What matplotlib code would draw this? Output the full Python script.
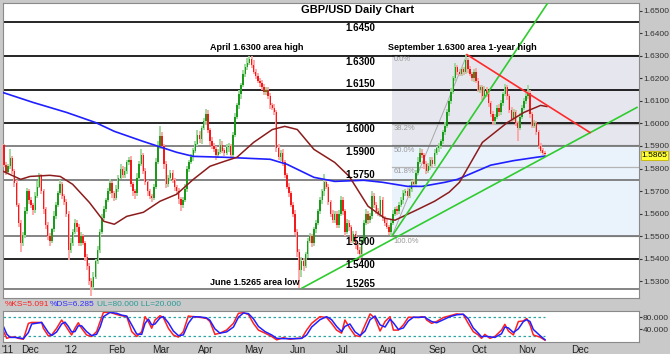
import numpy as np
import matplotlib.pyplot as plt

plt.rcParams['font.family'] = ['Liberation Sans', 'DejaVu Sans']

# ---- daily GBP/USD candles, index 0 = mid-Nov 2011 ----
first_open = 1.5905
closes = [
    1.5815, 1.5785, 1.5810, 1.5845, 1.5790, 1.5735, 1.5640, 1.5560, 1.5470, 1.5505,
    1.5610, 1.5700, 1.5660, 1.5640, 1.5615, 1.5680, 1.5720, 1.5765, 1.5700, 1.5620,
    1.5550, 1.5500, 1.5480, 1.5530, 1.5590, 1.5640, 1.5690, 1.5730, 1.5680, 1.5650,
    1.5600, 1.5440, 1.5470, 1.5520, 1.5560, 1.5540, 1.5470, 1.5500, 1.5470, 1.5410,
    1.5370, 1.5300, 1.5275, 1.5320, 1.5390, 1.5440, 1.5520, 1.5580, 1.5620, 1.5660,
    1.5700, 1.5735, 1.5690, 1.5670, 1.5710, 1.5760, 1.5800, 1.5770, 1.5790, 1.5830,
    1.5840, 1.5730, 1.5700, 1.5690, 1.5760, 1.5820, 1.5860, 1.5790, 1.5740, 1.5700,
    1.5680, 1.5670, 1.5720, 1.5830, 1.5900, 1.5945, 1.5900, 1.5820, 1.5730, 1.5760,
    1.5780, 1.5750, 1.5720, 1.5700, 1.5665, 1.5640, 1.5660, 1.5710, 1.5800, 1.5830,
    1.5850, 1.5880, 1.5910, 1.5950, 1.5930, 1.5980, 1.6010, 1.6040, 1.5970, 1.5920,
    1.5900, 1.5885, 1.5860, 1.5875, 1.5905, 1.5880, 1.5870, 1.5895, 1.5900, 1.5860,
    1.5950, 1.6030, 1.6080, 1.6130, 1.6170, 1.6220, 1.6250, 1.6270, 1.6285, 1.6260,
    1.6230, 1.6210, 1.6190, 1.6180, 1.6160, 1.6140, 1.6150, 1.6120, 1.6080, 1.6070,
    1.6050, 1.5890, 1.5850, 1.5870, 1.5830, 1.5770, 1.5720, 1.5690, 1.5640, 1.5600,
    1.5520, 1.5430, 1.5350, 1.5390, 1.5370, 1.5420, 1.5480, 1.5500, 1.5470, 1.5530,
    1.5560, 1.5610, 1.5660, 1.5700, 1.5740, 1.5720, 1.5650, 1.5600, 1.5570, 1.5600,
    1.5550, 1.5600, 1.5660, 1.5610, 1.5520, 1.5560, 1.5540, 1.5480, 1.5510, 1.5460,
    1.5440, 1.5420, 1.5480, 1.5560, 1.5600, 1.5570, 1.5590, 1.5680, 1.5640, 1.5610,
    1.5600, 1.5660, 1.5580, 1.5560, 1.5540, 1.5520, 1.5560, 1.5600, 1.5620, 1.5610,
    1.5640, 1.5660, 1.5690, 1.5700, 1.5680, 1.5710, 1.5740, 1.5730, 1.5780, 1.5830,
    1.5870, 1.5860, 1.5820, 1.5790, 1.5810, 1.5840, 1.5820, 1.5870, 1.5890, 1.5900,
    1.5920, 1.5960, 1.5990, 1.6050, 1.6100, 1.6140, 1.6200, 1.6250, 1.6230, 1.6220,
    1.6240, 1.6230, 1.6280, 1.6240, 1.6220, 1.6200, 1.6230, 1.6190, 1.6150, 1.6160,
    1.6120, 1.6150, 1.6130, 1.6090, 1.6040, 1.6010, 1.6030, 1.6070, 1.6050, 1.6090,
    1.6130, 1.6160, 1.6120, 1.6060, 1.6020, 1.6050, 1.6000, 1.5980, 1.6030, 1.6070,
    1.6100, 1.6120, 1.6135, 1.6040, 1.5990, 1.6000, 1.5960, 1.5900, 1.5880, 1.5870, 1.5865,
]
# shadow lengths above / below the body, in pips
up_pips = [
    5, 12, 10, 40, 10, 8, 12, 6, 10, 15,
    20, 15, 10, 12, 8, 15, 25, 15, 10, 8,
    10, 12, 15, 8, 20, 10, 12, 18, 10, 8,
    15, 10, 20, 12, 15, 10, 12, 20, 10, 8,
    12, 10, 15, 20, 10, 15, 12, 20, 15, 10,
    15, 20, 10, 12, 15, 10, 20, 12, 15, 10,
    10, 15, 12, 10, 20, 15, 25, 10, 12, 8,
    10, 8, 12, 15, 20, 42, 15, 10, 12, 10,
    12, 15, 10, 8, 12, 10, 15, 20, 12, 10,
    15, 10, 12, 20, 15, 10, 15, 25, 20, 10,
    20, 12, 15, 10, 25, 15, 10, 12, 15, 10,
    10, 15, 12, 20, 10, 15, 12, 20, 15, 12,
    20, 12, 15, 10, 12, 15, 10, 12, 15, 10,
    15, 10, 20, 12, 15, 10, 12, 15, 10, 12,
    15, 10, 12, 20, 15, 10, 12, 15, 10, 12,
    10, 12, 15, 10, 34, 15, 12, 10, 15, 12,
    12, 15, 20, 12, 10, 15, 12, 10, 15, 12,
    10, 12, 15, 10, 20, 12, 15, 20, 10, 12,
    15, 20, 12, 10, 15, 10, 12, 15, 10, 12,
    10, 12, 15, 10, 12, 15, 10, 12, 15, 20,
    20, 15, 10, 12, 15, 10, 12, 15, 10, 12,
    12, 10, 15, 12, 10, 15, 12, 20, 10, 12,
    12, 10, 28, 12, 15, 10, 12, 15, 10, 12,
    12, 15, 10, 12, 10, 15, 12, 10, 15, 12,
    10, 15, 12, 10, 15, 12, 10, 12, 15, 10,
    12, 15, 35, 12, 10, 15, 12, 10, 12, 10, 8,
]
dn_pips = [
    10, 15, 8, 10, 12, 15, 10, 20, 40, 12,
    12, 10, 18, 15, 20, 10, 12, 8, 15, 20,
    20, 15, 25, 10, 12, 15, 10, 8, 15, 12,
    15, 45, 15, 12, 10, 20, 15, 12, 10, 20,
    20, 15, 42, 15, 10, 12, 15, 10, 8, 12,
    10, 15, 20, 12, 10, 15, 8, 12, 10, 15,
    15, 12, 20, 25, 10, 12, 10, 15, 12, 20,
    15, 20, 10, 12, 10, 12, 15, 20, 15, 12,
    15, 12, 20, 15, 20, 30, 15, 10, 12, 15,
    12, 15, 10, 12, 15, 20, 10, 15, 12, 15,
    15, 12, 20, 15, 10, 12, 15, 10, 20, 15,
    15, 10, 12, 15, 20, 10, 12, 15, 10, 15,
    10, 15, 12, 20, 10, 15, 12, 10, 15, 12,
    12, 15, 10, 15, 20, 10, 12, 15, 10, 15,
    15, 20, 80, 30, 25, 12, 15, 10, 20, 12,
    15, 12, 10, 15, 20, 10, 12, 15, 10, 12,
    15, 12, 10, 15, 20, 12, 15, 10, 12, 15,
    20, 25, 15, 10, 12, 15, 10, 12, 15, 12,
    10, 15, 12, 15, 10, 15, 20, 10, 12, 15,
    12, 10, 15, 12, 10, 12, 15, 10, 12, 10,
    10, 15, 20, 12, 10, 15, 12, 10, 12, 15,
    15, 10, 12, 10, 15, 12, 10, 12, 15, 10,
    10, 15, 12, 15, 10, 12, 15, 10, 12, 15,
    15, 10, 12, 15, 10, 15, 12, 10, 15, 12,
    12, 10, 15, 12, 15, 10, 12, 60, 10, 12,
    10, 12, 10, 15, 12, 10, 12, 15, 10, 12, 10,
]

# moving averages (read at sample points)
blue_ma_x = [-0.5, 14, 30, 44, 53, 67, 83, 91, 106, 128, 136, 149, 159, 173, 182,
             194, 201, 212, 218, 234, 245, 256, 260]
blue_ma_y = [1.6137, 1.6093, 1.6049, 1.6004, 1.5965, 1.5920, 1.5872, 1.5854, 1.5850,
             1.5841, 1.5819, 1.5761, 1.5743, 1.5748, 1.5739, 1.5721, 1.5721, 1.5739,
             1.5752, 1.5815, 1.5835, 1.5850, 1.5855]
brown_ma_x = [-0.5, 8, 12.5, 22, 27, 33, 41, 48, 53, 59, 67, 75, 83, 91, 99, 106, 112,
              120, 129, 135, 141, 149, 159, 166, 175, 183, 188, 199, 207, 214, 219,
              230, 242, 250, 258, 261]
brown_ma_y = [1.5788, 1.5752, 1.5765, 1.5770, 1.5765, 1.5730, 1.5650, 1.5566, 1.5553,
              1.5588, 1.5606, 1.5655, 1.5686, 1.5752, 1.5810, 1.5832, 1.5850, 1.5916,
              1.5973, 1.5987, 1.5973, 1.5885, 1.5827, 1.5765, 1.5633, 1.5580, 1.5571,
              1.5619, 1.5655, 1.5695, 1.5739, 1.5916, 1.6004, 1.6049, 1.6080, 1.6075]

# slow stochastic (read at sample points)
stoch_x = [-0.3, 1.3, 2.9, 5.3, 6.9, 9.3, 11.7, 13.3, 18.1, 18.9, 21.3, 22.9, 25.3,
           27.7, 29.3, 30.9, 32.5, 34.1, 35.7, 37.3, 39.7, 42.1, 44.5, 46.2, 47.8,
           51.0, 54.2, 56.6, 59.0, 61.4, 63.8, 66.2, 67.8, 69.4, 71.0, 72.6, 75.0,
           76.6, 79.0, 81.4, 83.8, 86.2, 88.6, 91.0, 94.2, 97.4, 99.0, 101.4, 103.8,
           107.0, 110.3, 112.7, 115.1, 117.5, 119.9, 122.3, 125.5, 128.7, 131.1,
           134.3, 137.5, 140.7, 143.1, 145.5, 147.9, 151.9,
           155.1, 157.5, 159.9, 162.3, 163.9, 166.3, 168.8, 171.2, 173.6, 176.0,
           178.4, 180.8, 183.2, 185.6, 187.2, 189.6, 192.0, 194.4, 196.8, 199.2,
           200.8, 202.4, 203.2, 205.6, 208.0, 211.2, 214.4, 217.6, 220.8, 223.2,
           225.6, 228.0, 229.6, 231.2, 233.6, 236.0, 239.2, 240.8, 242.5, 244.9,
           247.3, 249.7, 251.3, 252.9, 254.5, 257.7, 260.1]
stoch_k = [35, 11, 15, 15, 11, 8, 60, 63, 63, 44, 19, 22, 44, 71, 55, 38, 22, 44, 62, 44,
           22, 17, 33, 66, 96, 96, 89, 85, 82, 33, 17, 33, 82, 66, 44, 71, 85, 79, 44, 22,
           15, 33, 84, 82, 80, 76, 66, 24, 28, 38, 60, 93, 95, 89, 60, 38, 28, 17, 6, 13,
           8, 11, 11, 38, 60, 82,
           79, 60, 38, 28, 71, 44, 20, 17, 55, 91, 76, 35, 66, 82, 38, 38, 55, 80, 80, 79,
           82, 80, 71, 60, 66, 79, 85, 91, 89, 60, 33, 22, 11, 24, 11, 17, 38, 57, 35, 22,
           66, 68, 76, 55, 22, 15, 5]
stoch_d = [50, 25, 14, 14, 13, 10, 30, 58, 63, 55, 30, 20, 32, 58, 64, 50, 32, 33, 52, 52,
           33, 20, 24, 48, 82, 96, 93, 87, 84, 55, 25, 24, 60, 74, 55, 58, 78, 82, 62, 35,
           20, 22, 60, 82, 81, 78, 70, 42, 28, 32, 48, 80, 94, 92, 75, 50, 33, 22, 11, 10,
           10, 10, 11, 22, 48, 72,
           82, 72, 50, 33, 50, 58, 32, 20, 35, 72, 84, 55, 48, 74, 62, 40, 45, 68, 80, 80,
           80, 81, 76, 66, 62, 72, 82, 88, 90, 75, 45, 28, 16, 18, 16, 14, 26, 48, 45, 30,
           42, 66, 72, 66, 40, 20, 6.3]

levels = [1.6450, 1.6300, 1.6150, 1.6000, 1.5900, 1.5750, 1.5500, 1.5400, 1.5265]
level_side = ['below', 'below', 'above', 'below', 'below', 'above', 'below', 'below', 'above']
level_color = ['#000000', '#000000', '#000000', '#000000', '#707070', '#707070',
               '#707070', '#000000', '#707070']

fib_high, fib_low = 1.6305, 1.5500
fib_start_i, fib_high_i = 186.5, 222.6
fib_ratios = [0.0, 0.382, 0.5, 0.618, 1.0]
fib_labels = ['0.0%', '38.2%', '50.0%', '61.8%', '100.0%']

# trend lines (start/end points)
green_long = ([143.3, 304.3], [1.5270, 1.6071])
green_steep = ([186.5, 267.3], [1.5500, 1.6615])
red_down = ([222.6, 281.7], [1.6305, 1.5960])

month_pos = [1.8, 12.5, 32.2, 54.3, 75.5, 97.1, 120.2, 141.3, 162.5, 184.6, 208.2,
             228.4, 251.4, 276.9]
month_lab = ["'11", 'Dec', "'12", 'Feb', 'Mar', 'Apr', 'May', 'Jun', 'Jul', 'Aug',
             'Sep', 'Oct', 'Nov', 'Dec']

last_price = 1.5865
C_UP, C_UP_W = '#1c9a1c', '#9ad89a'
C_DN, C_DN_W = '#f21a1a', '#ffa4a4'
BG = '#c9c9c9'

fig = plt.figure(figsize=(6.7, 3.54), dpi=100, facecolor=BG)
W, H = 670.0, 354.0
ax = fig.add_axes([3 / W, 1 - 298 / H, 636 / W, 295 / H], facecolor='white')
axs = fig.add_axes([3 / W, 1 - 342 / H, 636 / W, 31 / H], facecolor='white')

x0, x1 = -0.5, 305.3
ax.set_xlim(x0, x1)
ax.set_ylim(1.5226, 1.6534)

# fibonacci shaded zone
fib_px = [fib_high - r * (fib_high - fib_low) for r in fib_ratios]
ax.fill_between([fib_start_i, x1], fib_px[2], fib_high, color='#e6e6ef', zorder=0, lw=0)
ax.fill_between([fib_start_i, x1], fib_low, fib_px[2], color='#eaf2fc', zorder=0, lw=0)
for r, p, lab in zip(fib_ratios, fib_px, fib_labels):
    ax.plot([fib_start_i, x1], [p, p], color='#b4b4b4', lw=0.9, zorder=1)
    ax.annotate(lab, (fib_start_i, p), xytext=(1, -1), textcoords='offset points',
                fontsize=5.5, color='#999999', va='top', ha='left', zorder=6)
ax.plot([fib_start_i, fib_high_i], [fib_low, fib_high], color='#a8a8a8', lw=0.7, zorder=1)

# horizontal levels
for lv, side, col in zip(levels, level_side, level_color):
    ax.axhline(lv, color=col, lw=1.2, zorder=2)
    dy = -4.2 if side == 'below' else 3.8
    ax.annotate(f'{lv:.4f}', (164, lv), xytext=(0, dy), textcoords='offset points',
                fontsize=7, fontweight='bold', va='center', ha='left', zorder=6)

# candles
c = np.array(closes)
o = np.r_[first_open, c[:-1]]
hi = np.maximum(o, c) + np.array(up_pips) * 1e-4
lo = np.minimum(o, c) - np.array(dn_pips) * 1e-4
idx = np.arange(len(c))
bull = c >= o
ax.vlines(idx[bull], lo[bull], hi[bull], color=C_UP_W, lw=1.3, zorder=3)
ax.vlines(idx[~bull], lo[~bull], hi[~bull], color=C_DN_W, lw=1.3, zorder=3)
ax.bar(idx[bull], (c - o)[bull], bottom=o[bull], width=0.7, color=C_UP, zorder=3.5, lw=0)
ax.bar(idx[~bull], (o - c)[~bull], bottom=c[~bull], width=0.7, color=C_DN, zorder=3.5, lw=0)

# moving averages
ax.plot(blue_ma_x, blue_ma_y, color='#1f1fff', lw=1.2, zorder=4)
ax.plot(brown_ma_x, brown_ma_y, color='#8c1c1c', lw=1.1, zorder=4)

# trend lines
ax.plot(*green_long, color='#2fcc2f', lw=1.2, zorder=5)
ax.plot(*green_steep, color='#2fcc2f', lw=1.2, zorder=5)
ax.plot(*red_down, color='#ff2a2a', lw=1.2, zorder=5)

# annotations
ax.text(0.557, 0.976, 'GBP/USD Daily Chart', transform=ax.transAxes, fontsize=8,
        fontweight='bold', ha='center', va='center', zorder=7)
ax.text(121.6, 1.6336, 'April 1.6300 area high', fontsize=6.5, fontweight='bold',
        ha='center', va='center', zorder=7)
ax.text(220.4, 1.6336, 'September 1.6300 area 1-year high', fontsize=6.5,
        fontweight='bold', ha='center', va='center', zorder=7)
ax.text(120.5, 1.5294, 'June 1.5265 area low', fontsize=6.5, fontweight='bold',
        ha='center', va='center', zorder=7)

# price axis on the right
ax.yaxis.tick_right()
ticks = np.arange(1.53, 1.6501, 0.01)
ax.set_yticks(ticks)
ax.set_yticklabels([f'{v:.4f}' for v in ticks])
ax.tick_params(axis='y', labelsize=6.0, length=2, pad=0.8, colors='#333333')
ax.set_xticks([])
for s in ax.spines.values():
    s.set_color('#8a8a8a')
    s.set_linewidth(0.8)
ax.annotate(f'{last_price:.4f}', (1, last_price), xycoords=('axes fraction', 'data'),
            xytext=(2, -1), textcoords='offset points', fontsize=6.0, va='center',
            ha='left', bbox=dict(boxstyle='square,pad=0.1', fc='#ffff33', ec='#c8b400',
                                 lw=0.6), annotation_clip=False, zorder=8)

# stochastic panel
axs.set_xlim(x0, x1)
axs.set_ylim(-1, 100.5)
axs.plot([x0, len(c) - 1], [80, 80], ls=(0, (2, 2)), color='#2aa5a5', lw=0.9)
axs.plot([x0, len(c) - 1], [20, 20], ls=(0, (2, 2)), color='#2aa5a5', lw=0.9)
axs.plot(stoch_x, stoch_k, color='#ff2020', lw=1.1)
axs.plot(stoch_x, stoch_d, color='#2020ff', lw=1.1)
axs.yaxis.tick_right()
axs.set_yticks([80, 40])
axs.set_yticklabels(['80.000', '40.000'])
axs.tick_params(axis='y', labelsize=6.0, length=2, pad=0.8, colors='#333333')
axs.set_xticks(month_pos)
axs.set_xticklabels(month_lab)
axs.tick_params(axis='x', labelsize=7.2, length=0, pad=2.5, colors='#222222')
for s in axs.spines.values():
    s.set_color('#8a8a8a')
    s.set_linewidth(0.8)

# indicator caption band
fy = 1 - 304.5 / H
fig.text(5 / W, fy, '%KS=5.091', color='#ff2020', fontsize=6, va='center')
fig.text(50 / W, fy, '%DS=6.285', color='#3030ff', fontsize=6, va='center')
fig.text(97 / W, fy, 'UL=80.000 LL=20.000', color='#2a9a9a', fontsize=6, va='center')

fig.savefig('out.png', dpi=100, facecolor=BG)
